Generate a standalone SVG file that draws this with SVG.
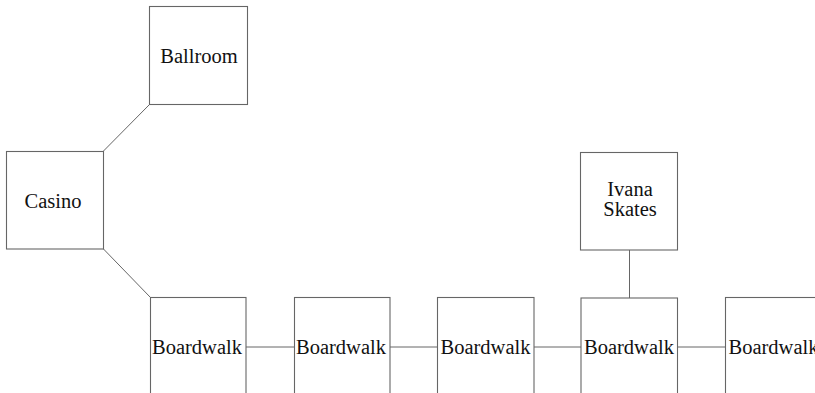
<svg xmlns="http://www.w3.org/2000/svg" width="815" height="393" viewBox="0 0 815 393">
<style>
.box{fill:#fff;stroke:#666;stroke-width:1.1}
.lbl{font-size:20.5px;fill:#111;text-anchor:middle}
.con{stroke:#666;stroke-width:1;fill:none}
</style>
<rect width="815" height="393" fill="#fff"/>
<g id="connectors">
<line class="con" x1="149.5" y1="104.5" x2="103.5" y2="151"/>
<line class="con" x1="103.5" y1="249" x2="150.5" y2="297.5"/>
<line class="con" x1="246" y1="347" x2="294" y2="347"/>
<line class="con" x1="390" y1="347" x2="437" y2="347"/>
<line class="con" x1="534" y1="347" x2="581" y2="347"/>
<line class="con" x1="677.5" y1="347" x2="725.5" y2="347"/>
<line class="con" x1="629.5" y1="250" x2="629.5" y2="298"/>
</g>
<g font-family="'Liberation Serif', 'Times New Roman', 'DejaVu Serif', serif">
<g id="ballroom">
<rect class="box" x="149.5" y="6.5" width="98" height="98"/>
<text class="lbl" x="199" y="63">Ballroom</text>
</g>
<g id="casino">
<rect class="box" x="6.5" y="151.5" width="97" height="97.5"/>
<text class="lbl" x="53" y="208">Casino</text>
</g>
<g id="ivana">
<rect class="box" x="580.5" y="152.5" width="97" height="97.5"/>
<text class="lbl" x="630" y="196">Ivana</text>
<text class="lbl" x="630" y="216">Skates</text>
</g>
<g id="boardwalk1">
<rect class="box" x="150.5" y="297.5" width="95.5" height="100"/>
<text class="lbl" x="197" y="354">Boardwalk</text>
</g>
<g id="boardwalk2">
<rect class="box" x="294.5" y="297.5" width="95.5" height="100"/>
<text class="lbl" x="341" y="354">Boardwalk</text>
</g>
<g id="boardwalk3">
<rect class="box" x="437.5" y="297.5" width="96.5" height="100"/>
<text class="lbl" x="485.5" y="354">Boardwalk</text>
</g>
<g id="boardwalk4">
<rect class="box" x="581" y="298" width="96.5" height="100"/>
<text class="lbl" x="629" y="354">Boardwalk</text>
</g>
<g id="boardwalk5">
<rect class="box" x="725.5" y="297.5" width="96.5" height="100"/>
<text class="lbl" x="773.5" y="354">Boardwalk</text>
</g>
</g>
</svg>
